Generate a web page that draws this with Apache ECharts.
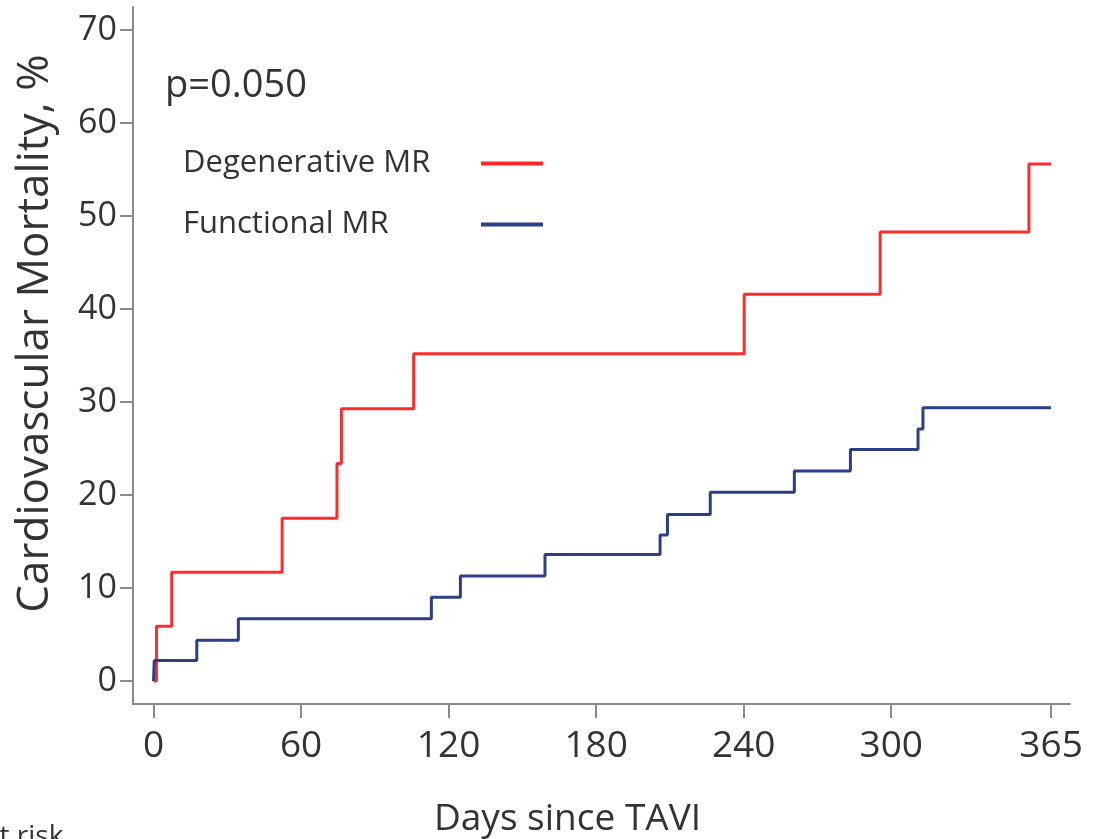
<!DOCTYPE html>
<html>
<head>
<meta charset="utf-8">
<script src="https://cdn.jsdelivr.net/npm/echarts@6/dist/echarts.min.js"></script>
<style>
  html, body { margin: 0; padding: 0; background: #fff; }
  #chart { width: 1105px; height: 839px; }
</style>
</head>
<body>
<div id="chart"></div>
<script>
  // Kaplan-Meier steps: [day, cumulative mortality %]
  var degenerative = [
    [0, 0], [1.2, 5.9], [7.4, 11.7], [52.3, 17.5], [74.6, 23.4], [76.4, 29.3],
    [105.8, 35.2], [240.2, 41.6], [295.5, 48.3], [356, 55.6], [365, 55.6]
  ];
  var functional = [
    [0, 0], [0.3, 2.2], [17.6, 4.4], [34.5, 6.7], [113, 9.0], [124.8, 11.3],
    [159.2, 13.6], [206, 15.7], [209, 17.9], [226.4, 20.3], [260.6, 22.6],
    [283.4, 24.9], [310.9, 27.1], [312.9, 29.4], [365, 29.4]
  ];
  var seriesNames = ["Degenerative MR", "Functional MR"];
  var xTicks = [0, 60, 120, 180, 240, 300, 365];
  var yTicks = [0, 10, 20, 30, 40, 50, 60, 70];

  var font = "Open Sans";
  var textColor = "#333";
  var axisColor = "#8a8a8a";

  var chart = echarts.init(document.getElementById("chart"));
  var option = {
    animation: false,
    backgroundColor: "#fff",
    textStyle: { fontFamily: font },
    title: {
      text: "p=0.050",
      left: 160,
      top: 62,
      textStyle: { fontFamily: font, fontSize: 38, fontWeight: "normal", color: textColor }
    },
    legend: {
      orient: "vertical",
      left: 178,
      top: 143,
      align: "right",
      icon: "rect",
      itemWidth: 62,
      itemHeight: 4,
      itemGap: 30,
      data: seriesNames,
      formatter: function (name) { return "{t|" + name + "}"; },
      textStyle: {
        rich: {
          t: { width: 293, align: "left", fontFamily: font, fontSize: 31, lineHeight: 34, color: textColor }
        }
      }
    },
    grid: { left: 133, right: 35, top: 7, bottom: 135, outerBoundsMode: "none" },
    xAxis: {
      type: "value",
      min: -8.34,
      max: 372.7,
      name: "Days since TAVI",
      nameLocation: "middle",
      nameGap: 97,
      nameTextStyle: { fontFamily: font, fontSize: 37, color: textColor, padding: [0, 68, 0, 0] },
      splitLine: { show: false },
      axisLine: { onZero: false, lineStyle: { color: axisColor, width: 2 } },
      axisTick: { customValues: xTicks, length: 14, lineStyle: { color: axisColor, width: 2 } },
      axisLabel: { customValues: xTicks, margin: 24, fontSize: 37, color: textColor, fontFamily: font }
    },
    yAxis: {
      type: "value",
      min: -2.47,
      max: 72.5,
      name: "Cardiovascular Mortality, %",
      nameLocation: "middle",
      nameGap: 76,
      nameTextStyle: { fontFamily: font, fontSize: 44, color: textColor, padding: [0, 0, 0, 44] },
      splitLine: { show: false },
      axisLine: { show: true, onZero: false, lineStyle: { color: axisColor, width: 2 } },
      axisTick: { show: true, customValues: yTicks, length: 13, lineStyle: { color: axisColor, width: 2 } },
      axisLabel: { customValues: yTicks, margin: 16, fontSize: 34, color: textColor, fontFamily: font }
    },
    series: [
      {
        name: seriesNames[0],
        type: "line",
        step: "end",
        showSymbol: false,
        data: degenerative,
        itemStyle: { color: "#ff2b2b" },
        lineStyle: { color: "#ff2b2b", width: 3 }
      },
      {
        name: seriesNames[1],
        type: "line",
        step: "end",
        showSymbol: false,
        data: functional,
        itemStyle: { color: "#2c3e85" },
        lineStyle: { color: "#2c3e85", width: 3 }
      }
    ],
    graphic: [
      {
        type: "text",
        left: -16,
        top: 823,
        style: { text: "at risk", fontFamily: font, fontSize: 28, fill: textColor }
      }
    ]
  };
  chart.setOption(option);
</script>
</body>
</html>
